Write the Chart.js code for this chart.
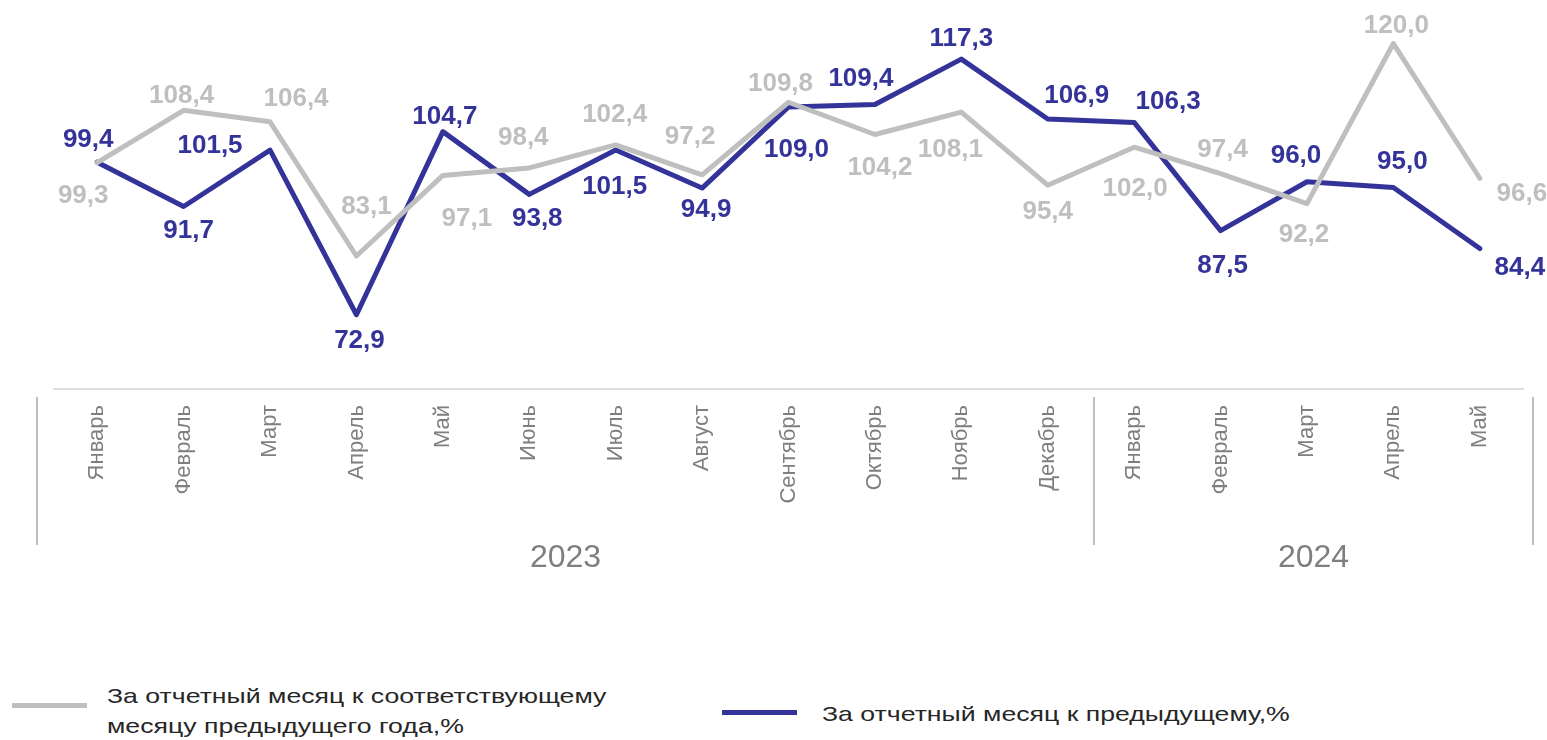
<!DOCTYPE html>
<html lang="ru">
<head>
<meta charset="utf-8">
<title>Индексы</title>
<script src="https://cdn.jsdelivr.net/npm/chart.js@4.4.1/dist/chart.umd.min.js"></script>
<style>
  html, body { margin: 0; padding: 0; background: #fff; }
  body { width: 1547px; height: 740px; position: relative; overflow: hidden; font-family: "Liberation Sans", Arial, sans-serif; }
  #wrap { position: absolute; left: 0; top: 0; width: 1547px; height: 589px; }
  .lg-line { position: absolute; height: 5px; width: 75px; }
  .lg-text { position: absolute; font-size: 21px; line-height: 30px; color: #262626; transform: scaleX(1.27); transform-origin: left top; white-space: nowrap; }
</style>
</head>
<body>
<div id="wrap"><canvas id="chart"></canvas></div>

<!-- легенда -->
<div class="lg-line" style="left:12px; top:703px; background:#bfbfbf"></div>
<div class="lg-text" style="left:107px; top:681px">За отчетный месяц к соответствующему<br>месяцу предыдущего года,%</div>
<div class="lg-line" style="left:722px; top:710px; background:#333399"></div>
<div class="lg-text" style="left:822px; top:699px">За отчетный месяц к предыдущему,%</div>

<script>
// ==================== ДАННЫЕ ====================
const months = ['Январь', 'Февраль', 'Март', 'Апрель', 'Май', 'Июнь', 'Июль', 'Август', 'Сентябрь', 'Октябрь', 'Ноябрь', 'Декабрь',
                'Январь', 'Февраль', 'Март', 'Апрель', 'Май'];
const yearLabels = ['2023', '2024'];
const yearSpans = [12, 5];

const yoyValues = [99.3, 108.4, 106.4, 83.1, 97.1, 98.4, 102.4, 97.2, 109.8, 104.2, 108.1, 95.4, 102.0, 97.4, 92.2, 120.0, 96.6];
const momValues = [99.4, 91.7, 101.5, 72.9, 104.7, 93.8, 101.5, 94.9, 109.0, 109.4, 117.3, 106.9, 106.3, 87.5, 96.0, 95.0, 84.4];

// сдвиг подписи относительно точки (dx, dy), как расставлено в исходнике
const yoyLabelShift = [[-14, 31], [-2, -16], [26, -25], [10, -51], [24, 42], [-6, -32], [-1, -32], [-12, -40], [-8, -20],
                       [5, 31], [-11, 36], [0, 25], [1, 40], [2, -26], [-3, 29], [3, -20], [42, 14]];
const momLabelShift = [[-9, -24], [5, 23], [-60, -6], [3, 24], [2, -17], [8, 23], [-1, 35], [4, 20], [8, 41],
                       [-14, -28], [0, -22], [29, -25], [34, -22], [2, 33], [-11, -28], [9, -27], [40, 17]];

const FONT = '"Liberation Sans", Arial, sans-serif';

// ==================== ПОДПИСИ ЗНАЧЕНИЙ ====================
const valueLabels = {
    id: 'valueLabels',
    afterDatasetsDraw(chart) {
        const ctx = chart.ctx;
        ctx.save();
        ctx.font = 'bold 26px ' + FONT;
        ctx.textAlign = 'center';
        ctx.textBaseline = 'alphabetic';
        chart.data.datasets.forEach((ds, i) => {
            const meta = chart.getDatasetMeta(i);
            ctx.fillStyle = ds.labelColor;
            meta.data.forEach((pt, j) => {
                const s = ds.labelShift[j];
                const txt = ds.data[j].toFixed(1).replace('.', ',');
                ctx.fillText(txt, pt.x + s[0], pt.y + s[1] + 9);
            });
        });
        ctx.restore();
    }
};

// ==================== ГОДЫ ПОД ОСЬЮ ====================
const yearAxis = {
    id: 'yearAxis',
    afterDraw(chart) {
        const x = chart.scales.x;
        const ctx = chart.ctx;
        const base = chart.chartArea.bottom;
        const half = (x.getPixelForValue(1) - x.getPixelForValue(0)) / 2;

        const edges = [x.getPixelForValue(0) - half - 17];
        let idx = 0;
        yearSpans.forEach((n, k) => {
            idx += n;
            const last = k === yearSpans.length - 1;
            edges.push(x.getPixelForValue(idx - 1) + half + (last ? 10 : 3));
        });

        ctx.save();
        ctx.strokeStyle = '#bfbfbf';
        ctx.lineWidth = 2;
        edges.forEach(e => {
            ctx.beginPath();
            ctx.moveTo(e, base + 8);
            ctx.lineTo(e, base + 156);
            ctx.stroke();
        });

        ctx.fillStyle = '#7f7f7f';
        ctx.font = '32px ' + FONT;
        ctx.textAlign = 'center';
        ctx.textBaseline = 'alphabetic';
        yearLabels.forEach((lbl, k) => {
            ctx.fillText(lbl, (edges[k] + edges[k + 1]) / 2, base + 178);
        });
        ctx.restore();
    }
};

// ==================== ГРАФИК ====================
new Chart(document.getElementById('chart'), {
    type: 'line',
    data: {
        labels: months,
        datasets: [
            { label: 'За отчетный месяц к соответствующему месяцу предыдущего года,%', data: yoyValues,
              borderColor: '#bfbfbf', labelColor: '#bfbfbf', labelShift: yoyLabelShift },
            { label: 'За отчетный месяц к предыдущему,%', data: momValues,
              borderColor: '#333399', labelColor: '#333399', labelShift: momLabelShift }
        ]
    },
    options: {
        responsive: true,
        maintainAspectRatio: false,
        animation: false,
        layout: { padding: { left: 54, right: 24, top: 9, bottom: 0 } },
        elements: {
            line: { borderWidth: 5, tension: 0, fill: false, borderCapStyle: 'round', borderJoinStyle: 'round' },
            point: { radius: 0, hoverRadius: 0 }
        },
        plugins: { legend: { display: false }, tooltip: { enabled: false } },
        scales: {
            x: {
                offset: true,
                grid: { display: false, drawTicks: false },
                border: { display: true, color: '#dcdce2', width: 2 },
                ticks: {
                    autoSkip: false, minRotation: 90, maxRotation: 90, padding: 16,
                    color: '#7f7f7f', font: { family: FONT, size: 22 }
                },
                afterFit(scale) { scale.height = 200; }
            },
            y: { display: false, min: 60, max: 126 }
        }
    },
    plugins: [valueLabels, yearAxis]
});
</script>
</body>
</html>
